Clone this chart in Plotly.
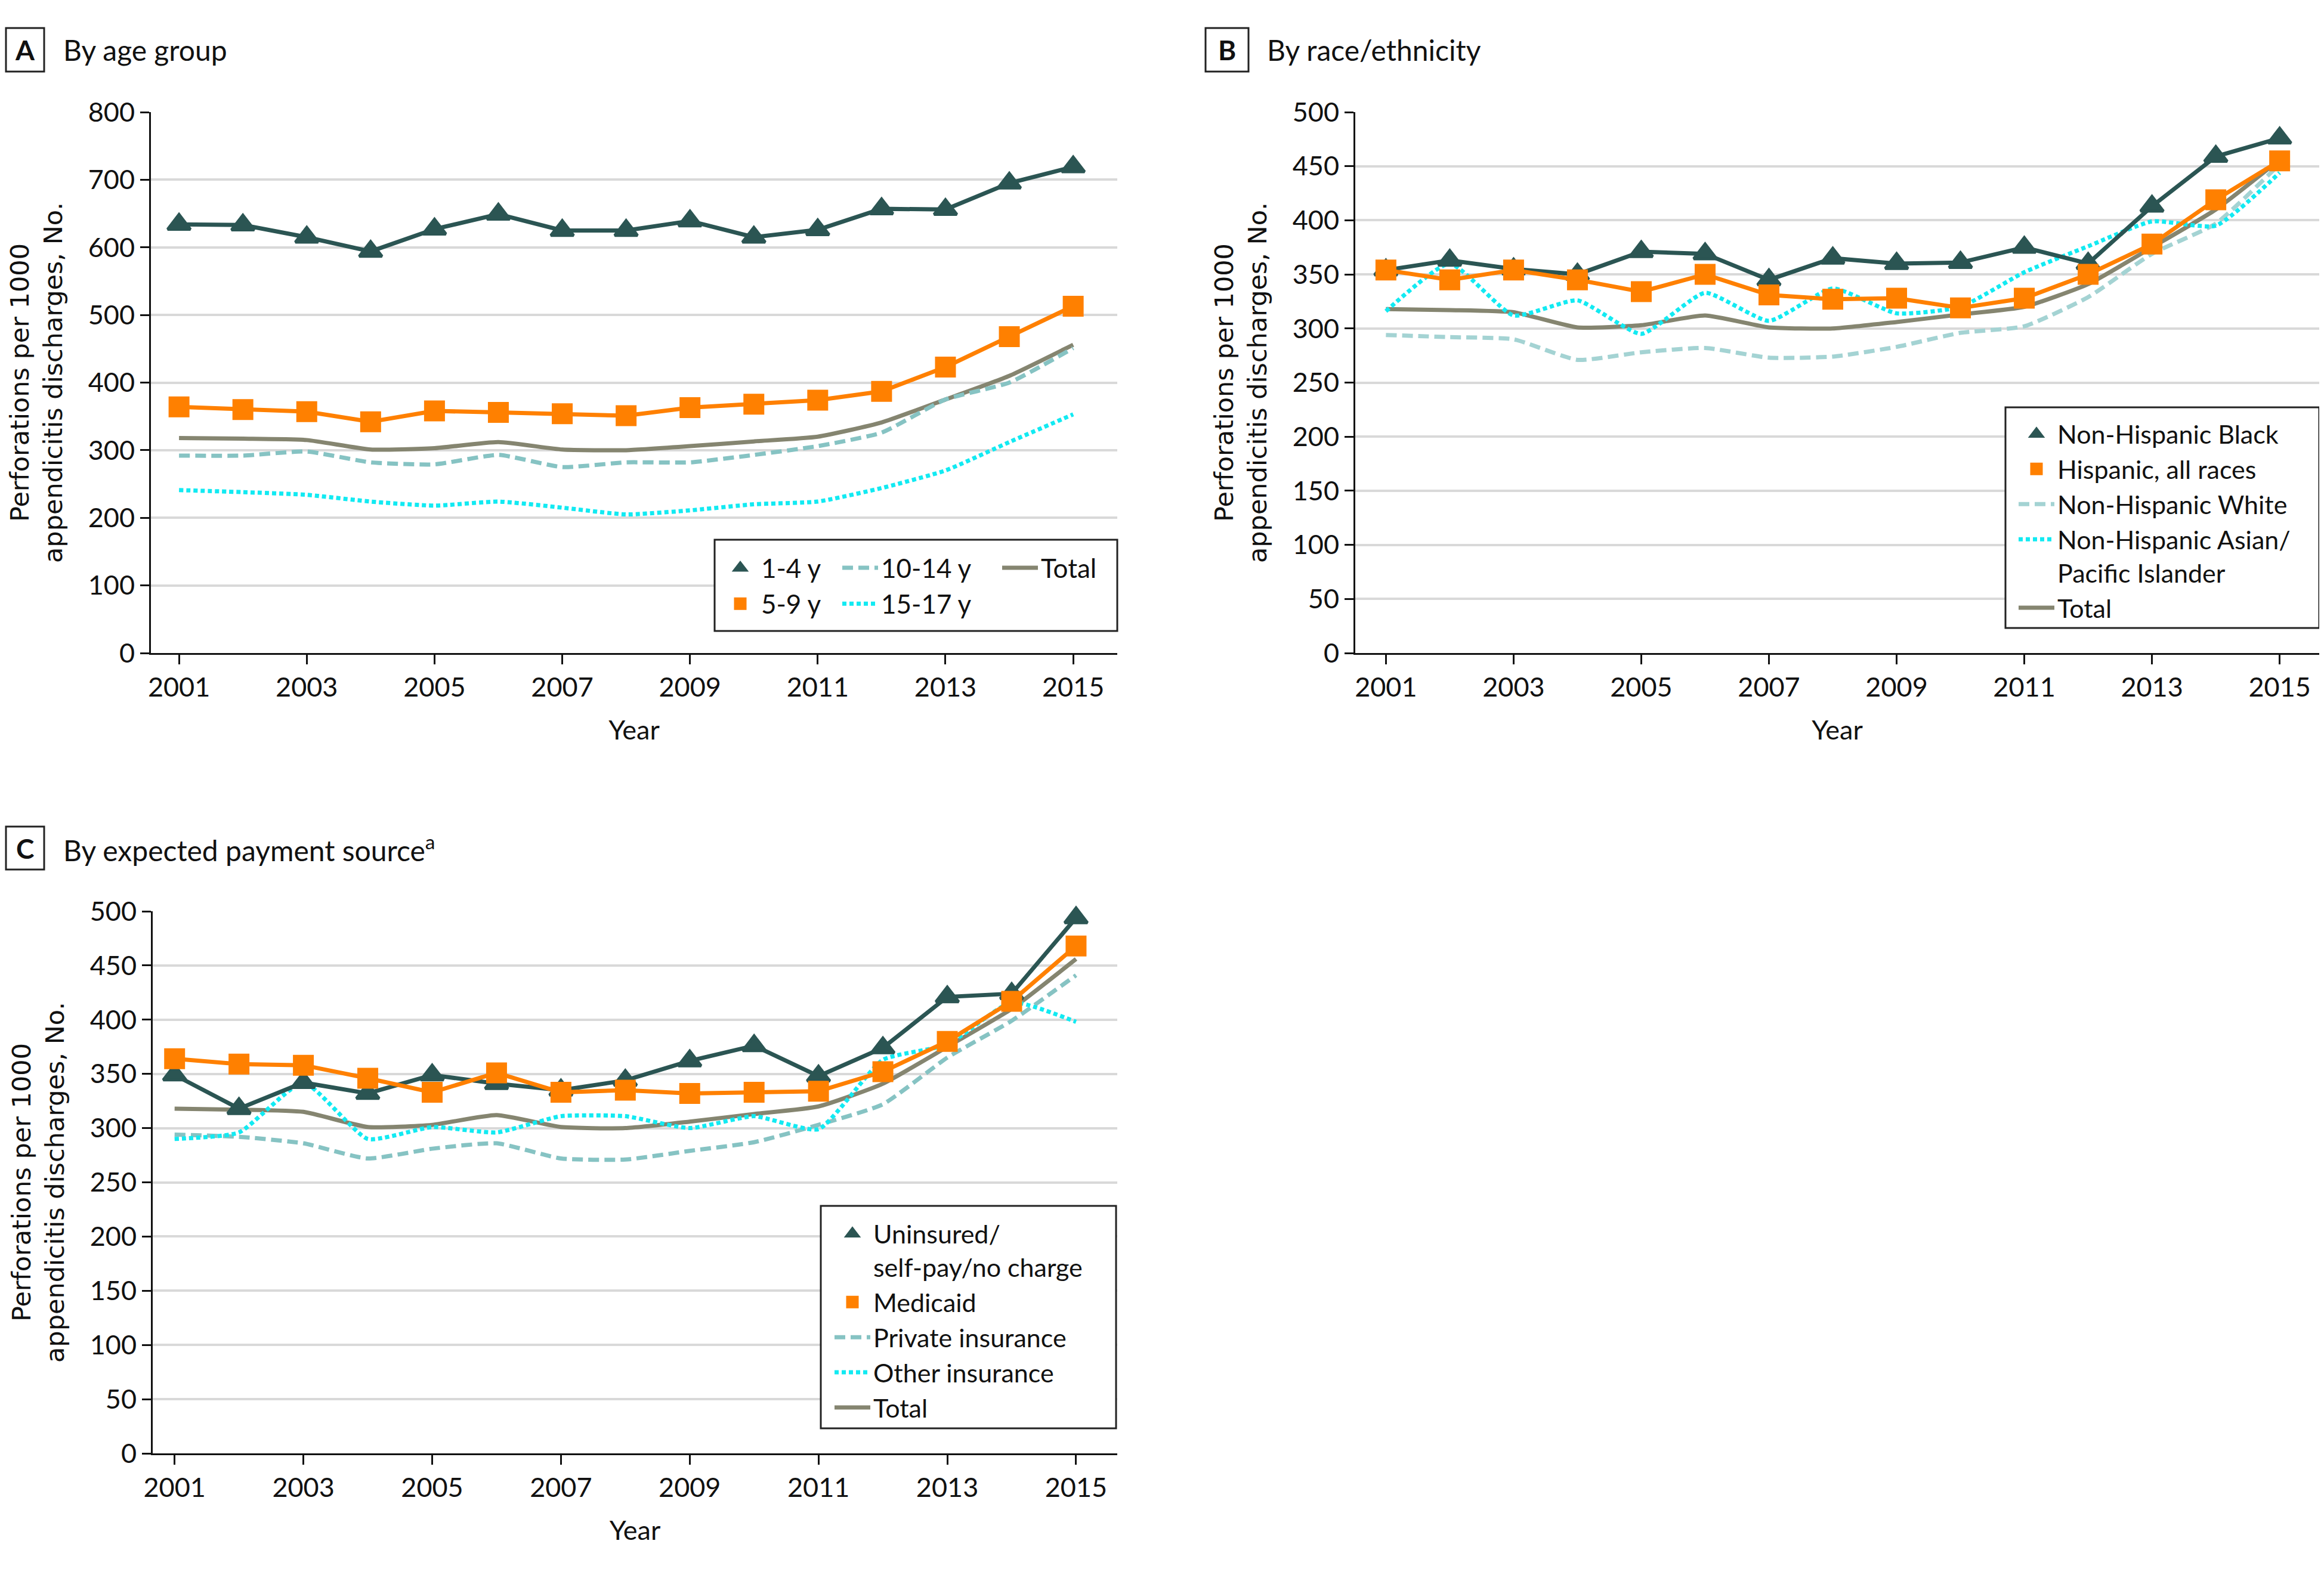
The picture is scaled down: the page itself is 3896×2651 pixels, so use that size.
import plotly.graph_objects as go

# page is 3896x2651; the html body adds an 8 px margin, so the figure is 16 px smaller
OFF = 8
FW, FH = 3896 - 2 * OFF, 2651 - 2 * OFF

years = list(range(2001, 2016))
x_ticks = [2001, 2003, 2005, 2007, 2009, 2011, 2013, 2015]

# Panel A: by age group
age_1_4 = [634, 633, 615, 594, 627, 649, 625, 625, 639, 615, 626, 657, 656, 695, 719]
age_5_9 = [364, 360, 357, 342, 358, 356, 354, 351, 363, 368, 374, 387, 423, 468, 513]
age_10_14 = [292, 292, 298, 282, 279, 293, 275, 282, 282, 293, 306, 326, 375, 400, 451]
age_15_17 = [241, 238, 234, 224, 218, 224, 215, 205, 211, 220, 224, 244, 270, 312, 353]
total = [318, 317, 315, 301, 303, 312, 301, 300, 306, 313, 320, 341, 375, 410, 456]

# Panel B: by race/ethnicity
nh_black = [354, 363, 355, 350, 371, 369, 345, 365, 360, 361, 375, 360, 413, 459, 476]
hispanic = [354, 345, 354, 345, 334, 350, 331, 327, 328, 319, 328, 350, 378, 419, 455]
nh_white = [294, 292, 290, 271, 278, 282, 273, 274, 283, 296, 302, 329, 369, 397, 452]
nh_asian = [316, 360, 312, 326, 295, 333, 307, 337, 314, 320, 352, 376, 399, 395, 444]

# Panel C: by expected payment source
uninsured = [349, 318, 342, 332, 349, 341, 335, 344, 362, 376, 348, 374, 421, 424, 494]
medicaid = [364, 359, 358, 346, 333, 351, 333, 335, 332, 333, 334, 352, 380, 417, 468]
private = [294, 292, 286, 272, 281, 286, 272, 271, 279, 287, 303, 322, 365, 399, 441]
other_ins = [290, 296, 342, 290, 301, 296, 311, 311, 300, 311, 299, 363, 377, 416, 398]

DARK = "#2b5553"
ORANGE = "#ff8000"
DASH = "#86c3c3"
DASH_B = "#a4d3d3"
DOT = "#12eaf2"
TOTAL = "#858570"

FONT = "Lato"
YFONT = "DejaVu Sans"

fig = go.Figure()


def add_line(x, y, color, width, dash, name, xa, ya, legend, rank, shape="spline"):
    fig.add_trace(go.Scatter(
        x=x, y=y, mode="lines", name=name,
        line=dict(color=color, width=width, dash=dash, shape=shape, smoothing=0.5),
        xaxis=xa, yaxis=ya, legend=legend, legendrank=rank, hoverinfo="x+y+name"))


def add_marker_series(x, y, color, symbol, size, name, xa, ya, legend, rank):
    fig.add_trace(go.Scatter(
        x=x, y=y, mode="lines", showlegend=False,
        line=dict(color=color, width=7), xaxis=xa, yaxis=ya, hoverinfo="skip"))
    fig.add_trace(go.Scatter(
        x=x, y=y, mode="markers", name=name, cliponaxis=False,
        marker=dict(color=color, symbol=symbol, size=size, line=dict(color=color, width=5)),
        xaxis=xa, yaxis=ya, legend=legend, legendrank=rank))


DOTDASH = "7px,5px"
DASHPAT = "18px,9px"
TRI, SQ = 33, 30

# ---- Panel A
add_line(years, total, TOTAL, 7, "solid", "Total", "x", "y", "legend3", 1)
add_line(years, age_10_14, DASH, 7, DASHPAT, "10-14 y", "x", "y", "legend2", 1)
add_line(years, age_15_17, DOT, 7, DOTDASH, "15-17 y", "x", "y", "legend2", 2)
add_marker_series(years, age_1_4, DARK, "triangle-up", TRI, "1-4 y", "x", "y", "legend", 1)
add_marker_series(years, age_5_9, ORANGE, "square", SQ, "5-9 y", "x", "y", "legend", 2)

# ---- Panel B
add_line(years, total, TOTAL, 7, "solid", "Total", "x2", "y2", "legend4", 5)
add_line(years, nh_white, DASH_B, 7, DASHPAT, "Non-Hispanic White", "x2", "y2", "legend4", 3)
add_line(years, nh_asian, DOT, 7, DOTDASH, "Non-Hispanic Asian/<br>Pacific Islander", "x2", "y2", "legend4", 4)
add_marker_series(years, nh_black, DARK, "triangle-up", TRI, "Non-Hispanic Black", "x2", "y2", "legend4", 1)
add_marker_series(years, hispanic, ORANGE, "square", SQ, "Hispanic, all races", "x2", "y2", "legend4", 2)

# ---- Panel C
add_line(years, total, TOTAL, 7, "solid", "Total", "x3", "y3", "legend5", 5)
add_line(years, private, DASH, 7, DASHPAT, "Private insurance", "x3", "y3", "legend5", 3)
add_line(years, other_ins, DOT, 7, DOTDASH, "Other insurance", "x3", "y3", "legend5", 4)
add_marker_series(years, uninsured, DARK, "triangle-up", TRI, "Uninsured/<br>self-pay/no charge", "x3", "y3", "legend5", 1)
add_marker_series(years, medicaid, ORANGE, "square", SQ, "Medicaid", "x3", "y3", "legend5", 2)


def px_x(v):
    return min(max((v - OFF) / FW, 0.0), 1.0)


def px_y(v):
    return min(max(1 - (v - OFF) / FH, 0.0), 1.0)


def xaxis(domain, rng, anchor):
    return dict(
        domain=domain, range=rng, tickvals=x_ticks, ticks="outside", ticklen=16,
        tickwidth=3, tickcolor="#111111", showline=True, linecolor="#111111", linewidth=3,
        showgrid=False, zeroline=False, anchor=anchor,
        tickfont=dict(family=FONT, size=45, color="#111111"),
        title=dict(text="Year", font=dict(family=FONT, size=45, color="#111111"), standoff=32),
        automargin=False)


def yaxis(domain, rng, dtick, anchor):
    return dict(
        domain=domain, range=rng, dtick=dtick, ticks="outside", ticklen=15, tickwidth=3,
        tickcolor="#111111", showline=True, linecolor="#111111", linewidth=3,
        showgrid=True, gridcolor="#d9d9d9", gridwidth=4, zeroline=False, anchor=anchor,
        tickfont=dict(family=FONT, size=45, color="#111111"),
        title=dict(text="Perforations per 1000<br>appendicitis discharges, No.",
                   font=dict(family=YFONT, size=43, color="#111111"), standoff=30),
        automargin=False)


ydomAB = [px_y(1095), px_y(188)]
ydomC = [px_y(2437), px_y(1528)]

fig.update_layout(
    width=FW, height=FH, autosize=False,
    margin=dict(l=0, r=0, t=0, b=0),
    paper_bgcolor="white", plot_bgcolor="white",
    xaxis=xaxis([px_x(253), px_x(1873)], [2000.56, 2015.69], "y"),
    yaxis=yaxis(ydomAB, [0, 800], 100, "x"),
    xaxis2=xaxis([px_x(2272), px_x(3893)], [2000.52, 2015.62], "y2"),
    yaxis2=yaxis(ydomAB, [0, 500], 50, "x2"),
    xaxis3=xaxis([px_x(256), px_x(1873)], [2000.66, 2015.64], "y3"),
    yaxis3=yaxis(ydomC, [0, 500], 50, "x3"),
)

legend_common = dict(
    bgcolor="rgba(0,0,0,0)", borderwidth=0, itemwidth=60, xanchor="left", yanchor="top",
    orientation="v", itemclick=False, itemdoubleclick=False, traceorder="normal")
fontA = dict(family=FONT, size=44, color="#111111")
fontBC = dict(family=FONT, size=43, color="#111111")

fig.update_layout(
    legend=dict(legend_common, font=fontA, x=px_x(1206), y=px_y(917), valign="middle"),
    legend2=dict(legend_common, font=fontA, x=px_x(1407), y=px_y(917), valign="middle"),
    legend3=dict(legend_common, font=fontA, x=px_x(1675), y=px_y(917), valign="middle"),
    legend4=dict(legend_common, font=fontBC, x=px_x(3379), y=px_y(693), valign="top"),
    legend5=dict(legend_common, font=fontBC, x=px_x(1394), y=px_y(2034), valign="top"),
)

shapes = []
# legend frames
for (x0, y0, x1, y1) in [(1198, 905, 1873, 1058), (3362, 683, 3888, 1053), (1376, 2022, 1871, 2395)]:
    shapes.append(dict(type="rect", xref="paper", yref="paper", layer="above",
                       x0=px_x(x0), x1=px_x(x1), y0=px_y(y1), y1=px_y(y0),
                       line=dict(color="#222222", width=3), fillcolor="white"))
# panel letter boxes
for (x0, y0, x1, y1) in [(10, 47, 74, 120), (2021, 47, 2093, 120), (10, 1386, 74, 1458)]:
    shapes.append(dict(type="rect", xref="paper", yref="paper", layer="above",
                       x0=px_x(x0), x1=px_x(x1), y0=px_y(y1), y1=px_y(y0),
                       line=dict(color="#222222", width=3), fillcolor="white"))
fig.update_layout(shapes=shapes)

annotations = []
for letter, cx, cy in [("A", 42, 83.5), ("B", 2057, 83.5), ("C", 42, 1422)]:
    annotations.append(dict(text="<b>" + letter + "</b>", x=px_x(cx), y=px_y(cy),
                            xref="paper", yref="paper", xanchor="center", yanchor="middle",
                            showarrow=False, font=dict(family=FONT, size=46, color="#111111")))
for title, lx, cy in [("By age group", 104, 83.5), ("By race/ethnicity", 2122, 83.5),
                      ("By expected payment source<sup>a</sup>", 104, 1422)]:
    annotations.append(dict(text=title, x=px_x(lx), y=px_y(cy), xref="paper", yref="paper",
                            xanchor="left", yanchor="middle", showarrow=False,
                            font=dict(family=FONT, size=48, color="#111111")))
fig.update_layout(annotations=annotations)

fig.write_html("out.html")
